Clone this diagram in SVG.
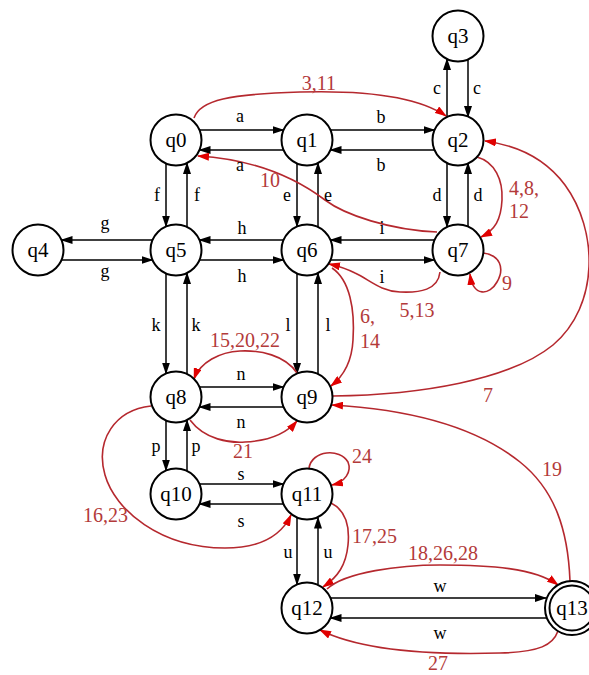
<svg xmlns="http://www.w3.org/2000/svg" width="589" height="675" viewBox="0 0 589 675">
<style>
.node circle{fill:#fff;stroke:#000;stroke-width:2}
.node text{font-family:"Liberation Serif",serif;font-size:21px;text-anchor:middle;fill:#000}
.e{stroke:#000;stroke-width:1.5;fill:none;marker-end:url(#ab)}
.r{stroke:#b5282e;stroke-width:1.6;fill:none;marker-end:url(#ar)}
.lb{font-family:"Liberation Serif",serif;font-size:18px;text-anchor:middle;fill:#000}
.lr{font-family:"Liberation Serif",serif;font-size:20px;fill:#b33a3a}
</style>
<defs>
<marker id="ab" markerUnits="userSpaceOnUse" markerWidth="12" markerHeight="8" refX="11" refY="4" orient="auto"><path d="M0,0 L12,4 L0,8 z" fill="#000"/></marker>
<marker id="ar" markerUnits="userSpaceOnUse" markerWidth="12" markerHeight="8" refX="11" refY="4" orient="auto"><path d="M0,0 L12,4 L0,8 z" fill="#e00000"/></marker>
</defs>
<rect width="589" height="675" fill="#fff"/>
<g id="connectors">
<path class="e" d="M199.5,130 L283.5,130"/>
<path class="e" d="M283.5,150 L199.5,150"/>
<path class="e" d="M330.5,130 L434.5,130"/>
<path class="e" d="M434.5,150 L330.5,150"/>
<path class="e" d="M447,117 L447,59"/>
<path class="e" d="M468,59 L468,117"/>
<path class="e" d="M447,163 L447,227"/>
<path class="e" d="M468,227 L468,163"/>
<path class="e" d="M166,163.5 L166,226.5"/>
<path class="e" d="M187,227 L187,163"/>
<path class="e" d="M297,163.5 L297,226.5"/>
<path class="e" d="M318,227 L318,163"/>
<path class="e" d="M152.5,240 L61.5,240"/>
<path class="e" d="M61.5,260 L152.5,260"/>
<path class="e" d="M283.5,240 L199.5,240"/>
<path class="e" d="M199.5,260 L283.5,260"/>
<path class="e" d="M434.5,240 L330.5,240"/>
<path class="e" d="M330.5,260 L434.5,260"/>
<path class="e" d="M166,273.5 L166,373.5"/>
<path class="e" d="M187,374 L187,273"/>
<path class="e" d="M297,273.5 L297,374"/>
<path class="e" d="M318,374 L318,273"/>
<path class="e" d="M199.5,387 L283.5,387"/>
<path class="e" d="M283.5,407 L199.5,407"/>
<path class="e" d="M166,420.5 L166,470.5"/>
<path class="e" d="M187,471 L187,420"/>
<path class="e" d="M199.5,484 L283.5,484"/>
<path class="e" d="M283.5,504 L199.5,504"/>
<path class="e" d="M297,517.5 L297,584.5"/>
<path class="e" d="M318,584.5 L318,517.5"/>
<path class="e" d="M330.5,598 L546,598"/>
<path class="e" d="M546,618 L330.5,618"/>
<path class="r" d="M194,118 C 200,100 230,94 300,92 C 370,90 420,98 446,116"/>
<path class="r" d="M437,232 C 390,230 345,215 325,200 C 305,185 265,160 198,156"/>
<path class="r" d="M477,157 C 495,162 503,180 502,200 C 501,220 495,230 481,237"/>
<path class="r" d="M483,253 C 500,255 505,268 497,282 C 490,295 473,298 470,274"/>
<path class="r" d="M440,272 C 438,290 420,293 400,292 C 380,291 370,280 355,273 C 345,268 338,266 329,264"/>
<path class="r" d="M332,268 C 350,280 355,310 353,340 C 352,360 345,375 331,386"/>
<path class="r" d="M333,396 C 420,395 510,380 553,345 C 600,305 598,230 565,185 C 545,158 515,145 485,141"/>
<path class="r" d="M297,373 C 285,355 260,350 240,351 C 220,352 200,362 194,379"/>
<path class="r" d="M190,420 C 205,440 230,443 245,442 C 265,441 285,435 297,421"/>
<path class="r" d="M151,406 C 115,410 95,440 105,475 C 115,510 160,548 225,548 C 265,548 283,532 291,515"/>
<path class="r" d="M309,468 C 312,450 340,448 348,462 C 352,472 345,482 332,485"/>
<path class="r" d="M331,503 C 345,510 350,525 348,545 C 346,565 338,577 323,587"/>
<path class="r" d="M327,589 C 345,572 400,565 440,565 C 490,565 535,568 558,585"/>
<path class="r" d="M558,631 C 553,645 540,652 500,653 C 430,655 360,650 320,630"/>
<path class="r" d="M570,581 C 568,530 555,490 520,462 C 480,430 420,410 332,405"/>
</g>
<g id="labels">
<text class="lb" x="240" y="122">a</text>
<text class="lb" x="240" y="171">a</text>
<text class="lb" x="381" y="123">b</text>
<text class="lb" x="381" y="171">b</text>
<text class="lb" x="437" y="94">c</text>
<text class="lb" x="477" y="94">c</text>
<text class="lb" x="437" y="201">d</text>
<text class="lb" x="478" y="201">d</text>
<text class="lb" x="157" y="201">f</text>
<text class="lb" x="197" y="201">f</text>
<text class="lb" x="287" y="201">e</text>
<text class="lb" x="328" y="201">e</text>
<text class="lb" x="105" y="229">g</text>
<text class="lb" x="105" y="277">g</text>
<text class="lb" x="242" y="234">h</text>
<text class="lb" x="242" y="282">h</text>
<text class="lb" x="382" y="234">i</text>
<text class="lb" x="382" y="283">i</text>
<text class="lb" x="156" y="331">k</text>
<text class="lb" x="196" y="331">k</text>
<text class="lb" x="288" y="331">l</text>
<text class="lb" x="328" y="331">l</text>
<text class="lb" x="241" y="380">n</text>
<text class="lb" x="241" y="428">n</text>
<text class="lb" x="156" y="452">p</text>
<text class="lb" x="196" y="452">p</text>
<text class="lb" x="241" y="480">s</text>
<text class="lb" x="241" y="527">s</text>
<text class="lb" x="288" y="558">u</text>
<text class="lb" x="328" y="558">u</text>
<text class="lb" x="440" y="592">w</text>
<text class="lb" x="440" y="639">w</text>
<text class="lr" x="319" y="90" text-anchor="middle">3,11</text>
<text class="lr" x="270" y="187" text-anchor="middle">10</text>
<text class="lr" x="509" y="195">4,8,</text>
<text class="lr" x="509" y="218">12</text>
<text class="lr" x="502" y="290">9</text>
<text class="lr" x="417" y="317" text-anchor="middle">5,13</text>
<text class="lr" x="360" y="323">6,</text>
<text class="lr" x="360" y="348">14</text>
<text class="lr" x="245" y="347" text-anchor="middle">15,20,22</text>
<text class="lr" x="483" y="402">7</text>
<text class="lr" x="243" y="458" text-anchor="middle">21</text>
<text class="lr" x="352" y="463">24</text>
<text class="lr" x="542" y="476">19</text>
<text class="lr" x="83" y="522">16,23</text>
<text class="lr" x="352" y="543">17,25</text>
<text class="lr" x="443" y="560" text-anchor="middle">18,26,28</text>
<text class="lr" x="438" y="670" text-anchor="middle">27</text>
</g>
<g id="q0" class="node"><circle cx="176" cy="140" r="25.5"/><text x="176" y="147">q0</text></g>
<g id="q1" class="node"><circle cx="307" cy="140" r="25.5"/><text x="307" y="147">q1</text></g>
<g id="q2" class="node"><circle cx="458" cy="140" r="25.5"/><text x="458" y="147">q2</text></g>
<g id="q3" class="node"><circle cx="458" cy="36" r="25.5"/><text x="458" y="43">q3</text></g>
<g id="q4" class="node"><circle cx="38" cy="250" r="25.5"/><text x="38" y="257">q4</text></g>
<g id="q5" class="node"><circle cx="176" cy="250" r="25.5"/><text x="176" y="257">q5</text></g>
<g id="q6" class="node"><circle cx="307" cy="250" r="25.5"/><text x="307" y="257">q6</text></g>
<g id="q7" class="node"><circle cx="458" cy="250" r="25.5"/><text x="458" y="257">q7</text></g>
<g id="q8" class="node"><circle cx="176" cy="397" r="25.5"/><text x="176" y="404">q8</text></g>
<g id="q9" class="node"><circle cx="307" cy="397" r="25.5"/><text x="307" y="404">q9</text></g>
<g id="q10" class="node"><circle cx="176" cy="494" r="25.5"/><text x="176" y="501">q10</text></g>
<g id="q11" class="node"><circle cx="307" cy="494" r="25.5"/><text x="307" y="501">q11</text></g>
<g id="q12" class="node"><circle cx="307" cy="608" r="25.5"/><text x="307" y="615">q12</text></g>
<g id="q13" class="node"><circle cx="572" cy="608" r="27"/><circle cx="572" cy="608" r="22.5"/><text x="572" y="615">q13</text></g>
</svg>
